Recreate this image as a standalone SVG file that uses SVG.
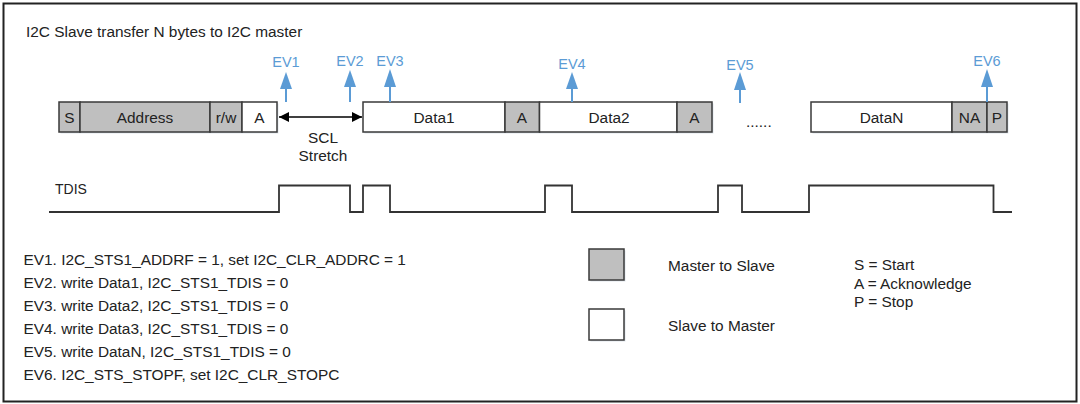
<svg xmlns="http://www.w3.org/2000/svg" width="1080" height="404" viewBox="0 0 1080 404">
<style>
text{font-family:"Liberation Sans",Arial,sans-serif;font-size:15.4px;fill:#222}
.c{text-anchor:middle}
.ev{fill:#5B9BD5;font-size:14.5px;text-anchor:middle}
.m{fill:#BFBFBF;stroke:#3a3a3a;stroke-width:1.5}
.s{fill:#FFFFFF;stroke:#3a3a3a;stroke-width:1.5}
.sh{fill:#dfe5ec}
.evl{stroke:#5B9BD5;stroke-width:2;fill:none}
.evh{fill:#5B9BD5}
.wave{fill:none;stroke:#333;stroke-width:1.8}
</style>
<defs>
<marker id="ah" viewBox="0 0 10 10" refX="10" refY="5" markerWidth="15" markerHeight="10" markerUnits="userSpaceOnUse" orient="auto-start-reverse">
<path d="M0,0 L10,5 L0,10 Z" fill="#000"/>
</marker>
</defs>
<rect x="3.5" y="3.5" width="1073" height="398" fill="#fff" stroke="#222" stroke-width="2"/>
<text x="26" y="37">I2C Slave transfer N bytes to I2C master</text>

<g id="frame-address">
<rect class="sh" x="60.5" y="103.5" width="218" height="30"/>
<rect class="m" x="59" y="102" width="21" height="30"/>
<rect class="m" x="80" y="102" width="130" height="30"/>
<rect class="m" x="210" y="102" width="32" height="30"/>
<rect class="s" x="242" y="102" width="35" height="30"/>
<text class="c" x="69.5" y="122.5">S</text>
<text class="c" x="145" y="122.5">Address</text>
<text class="c" x="226" y="122.5">r/w</text>
<text class="c" x="259.5" y="122.5">A</text>
</g>

<g id="frame-data">
<rect class="sh" x="364.5" y="103.5" width="349" height="30"/>
<rect class="s" x="363" y="102" width="142" height="30"/>
<rect class="m" x="505" y="102" width="34.5" height="30"/>
<rect class="s" x="539.5" y="102" width="137.5" height="30"/>
<rect class="m" x="677" y="102" width="35" height="30"/>
<text class="c" x="434" y="122.5">Data1</text>
<text class="c" x="522" y="122.5">A</text>
<text class="c" x="609" y="122.5">Data2</text>
<text class="c" x="694.5" y="122.5">A</text>
</g>

<g id="dots">
<text x="746" y="127">......</text>
</g>

<g id="frame-last">
<rect class="sh" x="812.5" y="103.5" width="196" height="30"/>
<rect class="s" x="811" y="102" width="141" height="30"/>
<rect class="m" x="952" y="102" width="35" height="30"/>
<rect class="m" x="987" y="102" width="20" height="30"/>
<text class="c" x="881.5" y="122.5">DataN</text>
<text class="c" x="969.5" y="122.5">NA</text>
<text class="c" x="997" y="122.5">P</text>
</g>

<g id="scl-stretch">
<text class="c" x="323" y="143">SCL</text>
<text class="c" x="323" y="161">Stretch</text>
</g>

<g id="events">
<text class="ev" x="286" y="67">EV1</text>
<text class="ev" x="350" y="66">EV2</text>
<text class="ev" x="390" y="66">EV3</text>
<text class="ev" x="572" y="68.5">EV4</text>
<text class="ev" x="740" y="69.5">EV5</text>
<text class="ev" x="987" y="66">EV6</text>
</g>

<g id="connectors">
<line x1="279" y1="117" x2="362" y2="117" stroke="#000" stroke-width="1.5" marker-start="url(#ah)" marker-end="url(#ah)"/>
<line class="evl" x1="286" y1="88" x2="286" y2="102"/>
<polygon class="evh" points="286,72 292,89 280,89"/>
<line class="evl" x1="350" y1="86" x2="350" y2="102"/>
<polygon class="evh" points="350,70 356,87 344,87"/>
<line class="evl" x1="390" y1="86" x2="390" y2="102"/>
<polygon class="evh" points="390,69 396,87 384,87"/>
<line class="evl" x1="572" y1="88" x2="572" y2="102"/>
<polygon class="evh" points="572,72 578,89 566,89"/>
<line class="evl" x1="740" y1="89" x2="740" y2="103"/>
<polygon class="evh" points="740,72 746,90 734,90"/>
<line class="evl" x1="987" y1="86" x2="987" y2="102"/>
<polygon class="evh" points="987,69 993,87 981,87"/>
</g>

<g id="tdis">
<text x="55" y="194" style="font-size:14px">TDIS</text>
<path class="wave" d="M49,212 H279 V185.5 H350 V212 H363 V185.5 H390 V212 H545 V185.5 H572 V212 H718 V185.5 H742 V212 H809 V185.5 H993.5 V212 H1012"/>
</g>

<g id="event-list">
<text x="23.5" y="265">EV1. I2C_STS1_ADDRF = 1, set I2C_CLR_ADDRC = 1</text>
<text x="23.5" y="288">EV2. write Data1, I2C_STS1_TDIS = 0</text>
<text x="23.5" y="311">EV3. write Data2, I2C_STS1_TDIS = 0</text>
<text x="23.5" y="334">EV4. write Data3, I2C_STS1_TDIS = 0</text>
<text x="23.5" y="357">EV5. write DataN, I2C_STS1_TDIS = 0</text>
<text x="23.5" y="380">EV6. I2C_STS_STOPF, set I2C_CLR_STOPC</text>
</g>

<g id="legend-master">
<rect class="sh" x="590.5" y="250.5" width="35" height="31"/>
<rect class="m" x="589" y="249" width="35" height="31"/>
<text x="668" y="270.5">Master to Slave</text>
</g>
<g id="legend-slave">
<rect class="sh" x="590.5" y="310.5" width="35" height="31"/>
<rect class="s" x="589" y="309" width="35" height="31"/>
<text x="668" y="331">Slave to Master</text>
</g>
<g id="legend-abbrev">
<text x="854" y="270">S = Start</text>
<text x="854" y="289">A = Acknowledge</text>
<text x="854" y="307">P = Stop</text>
</g>
</svg>
